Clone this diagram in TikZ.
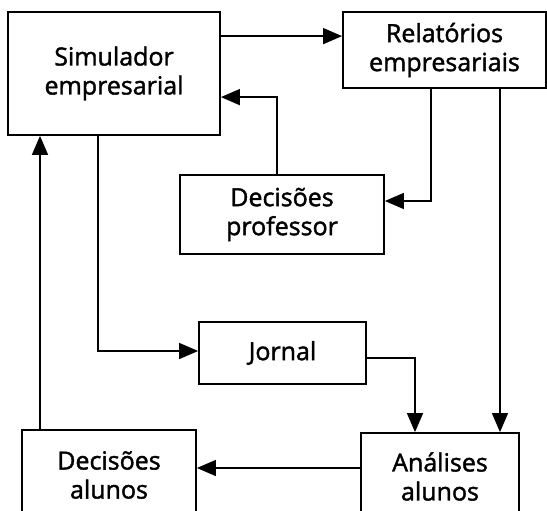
\documentclass[tikz,border=0pt]{standalone}
\usepackage{fontspec}
\setmainfont[FakeBold=1.6]{Open Sans}
\usetikzlibrary{arrows.meta}
\begin{document}
\begin{tikzpicture}[x=1pt,y=1pt,
  box/.style={draw, line width=1.8pt, rectangle, align=center, inner sep=0pt,
    font=\fontsize{25}{29}\selectfont},
  arr/.style={line width=1.5pt, -{Triangle[length=19pt,width=16pt]}}]
\useasboundingbox (0,0) rectangle (547,-511);
\clip (0,0) rectangle (547,-511);
% blocks
\node[box, minimum width=212pt, minimum height=123pt] (sim) at (114,-73.5) {Simulador\\empresarial};
\node[box, minimum width=203pt, minimum height=76pt] (rel) at (444.5,-50) {Relatórios\\empresariais};
\node[box, minimum width=204pt, minimum height=79pt] (dp) at (282,-214.5) {Decisões\\professor};
\node[box, minimum width=167pt, minimum height=62pt] (jor) at (282.5,-353) {Jornal};
\node[box, minimum width=174pt, minimum height=90pt] (da) at (109,-475) {Decisões\\alunos};
\node[box, minimum width=158pt, minimum height=87pt] (ana) at (440,-476.5) {Análises\\alunos};
% connectors
\draw[arr] ([yshift=-25pt]sim.north east) -- ([yshift=-25pt]sim.north east -| rel.west);
\draw[arr] ([xshift=-5pt]dp.north) |- ([yshift=-86pt]sim.north east);
\draw[arr] ([xshift=-13.5pt]rel.south) |- ([yshift=13.5pt]dp.east);
\draw[arr] ([xshift=55.5pt]rel.south) -- ([xshift=55.5pt]rel.south |- ana.north);
\draw[arr] ([xshift=-16pt]sim.south) |- ([yshift=2pt]jor.west);
\draw[arr] ([yshift=-5pt]jor.east) -| ([xshift=-25pt]ana.north);
\draw[arr] ([yshift=8.5pt]ana.west) -- ([yshift=8.5pt]ana.west -| da.east);
\draw[arr] ([xshift=-69pt]da.north) -- ([xshift=-69pt]da.north |- sim.south);
\end{tikzpicture}
\end{document}
